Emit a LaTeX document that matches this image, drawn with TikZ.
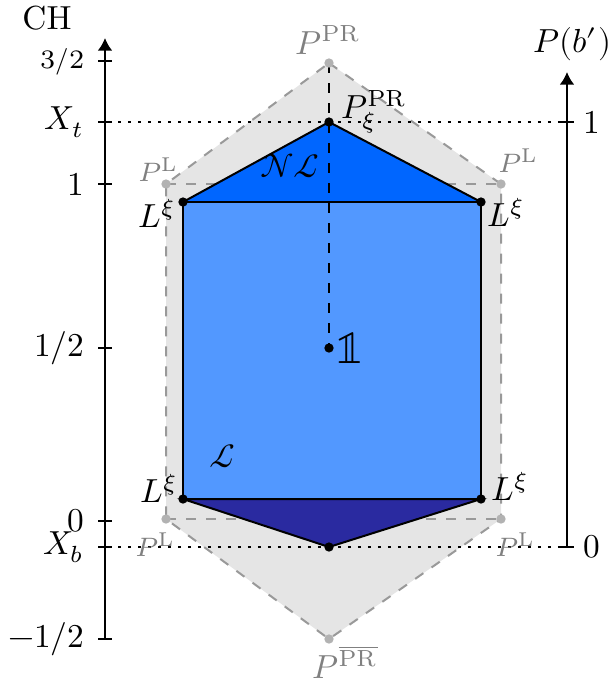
\documentclass[tikz,border=0pt]{standalone}
\usepackage{amsmath}
\usepackage{unicode-math}
\usepackage{tikz}
\usetikzlibrary{
  arrows.meta,
  positioning,
  calc,
}
\definecolor{nlBlue}{HTML}{0066FF}
\definecolor{locBlue}{HTML}{5298FF}
\definecolor{bndBlue}{HTML}{2A2AA0}
\definecolor{hullGray}{HTML}{E5E5E5}
\tikzset{
  axisLine/.style={
    -{Latex[length=3.8pt,width=4.5pt]}, line width=0.7pt,
  },
  tickMark/.style={line width=0.7pt},
  hullLine/.style={draw=black!40, dashed, line width=0.6pt},
  guideLine/.style={line width=0.8pt, dash pattern=on 0.8pt off 2.2pt},
  polyEdge/.style={draw=black, line width=0.6pt},
  vertexDot/.style={
    circle, fill=#1, inner sep=0pt, minimum size=2.8pt,
  },
  grayLabel/.style={text=black!50},
}

\begin{document}
\begin{tikzpicture}[x=0.3pt, y=-0.3pt]
\useasboundingbox (0,0) rectangle (612,681);

% corners of the outer hull
\coordinate (pr)    at (329,63);
\coordinate (prbar) at (329,639);
\coordinate (lTL)   at (166,184);
\coordinate (lTR)   at (501,184);
\coordinate (lBR)   at (501,519);
\coordinate (lBL)   at (166,519);
% corners of the inner region
\coordinate (xiTL)  at (183,202);
\coordinate (xiTR)  at (481,202);
\coordinate (xiBR)  at (481,499);
\coordinate (xiBL)  at (183,499);
\coordinate (xiPR)  at (329,122);
\coordinate (xiBot) at (329,547);
\coordinate (one)   at (329,348);

\fill[hullGray] (pr) -- (lTR) -- (lBR) -- (prbar) -- (lBL) -- (lTL) -- cycle;
\draw[hullLine] (pr) -- (lTR) -- (lBR) -- (prbar) -- (lBL) -- (lTL) -- cycle;
\draw[hullLine] (lTL) -- (lTR) (lBL) -- (lBR);

% left axis
\coordinate (chBot) at (105,639);
\coordinate (chTop) at (105,38);
\draw[axisLine] (chBot) -- (chTop);
\node (chName) at (47,18) {CH};
\draw[tickMark] (98,61) -- (112,61);
\node[anchor=east, font=\footnotesize] (chHalfUp) at (96,62) {$3/2$};
\foreach \y/\lab [count=\i] in {122/{$X_t$}, 184/{$1$}, 348/{$1/2$},
                                521/{$0$}, 547/{$X_b$}, 639/{$-1/2$}} {
  \draw[tickMark] (98,\y) -- (112,\y);
  \node[anchor=east] (chLab\i) at (96,\y) {\lab};
}

% right axis
\coordinate (pbBot) at (567,547);
\coordinate (pbTop) at (567,72);
\draw[axisLine] (pbBot) -- (pbTop);
\node (pbName) at (572,44) {$P(b')$};
\foreach \y/\lab [count=\i] in {122/{$1$}, 547/{$0$}} {
  \draw[tickMark] (560,\y) -- (574,\y);
  \node[anchor=west] (pbLab\i) at (572,\y) {\lab};
}

% guides
\draw[guideLine] (118,122) -- (560,122);
\draw[guideLine] (118,547) -- (560,547);

% inner region
\filldraw[fill=nlBlue, polyEdge] (xiTL) -- (xiPR) -- (xiTR) -- cycle;
\filldraw[fill=locBlue, polyEdge] (xiTL) rectangle (xiBR);
\filldraw[fill=bndBlue, polyEdge] (xiBL) -- (xiBR) -- (xiBot) -- cycle;
\draw[dashed, line width=0.7pt] (pr) -- (one);

% dots
\foreach \p in {pr, prbar, lTL, lTR, lBR, lBL}
  \node[vertexDot=black!30] (dot-\p) at (\p) {};
\foreach \p in {xiTL, xiTR, xiBR, xiBL, xiPR, xiBot, one}
  \node[vertexDot=black] (dot-\p) at (\p) {};

% labels
\node[grayLabel] (labPR) at (328,40) {$P^{\mathrm{PR}}$};
\node[grayLabel] (labPRbar) at (345,662) {$P^{\overline{\mathrm{PR}}}$};
\node[grayLabel, font=\footnotesize] (labLTL) at (158,170) {$P^{\mathrm{L}}$};
\node[grayLabel, font=\footnotesize] (labLTR) at (518,161) {$P^{\mathrm{L}}$};
\node[grayLabel, font=\footnotesize] (labLBL) at (155,545) {$P^{\mathrm{L}}$};
\node[grayLabel, font=\footnotesize] (labLBR) at (515,545) {$P^{\mathrm{L}}$};
\node (labXiPR) at (374,112) {$P_{\xi}^{\mathrm{PR}}$};
\node (labXiTL) at (157,213) {$L^{\xi}$};
\node (labXiTR) at (506,212) {$L^{\xi}$};
\node (labXiBL) at (159,488) {$L^{\xi}$};
\node (labXiBR) at (510,486) {$L^{\xi}$};
\node (labNL) at (290,166) {$\mathcal{NL}$};
\node (labL) at (222,456) {$\mathcal{L}$};
\node[font=\Large] (labOne) at (350,348) {$\mathbb{1}$};
\end{tikzpicture}
\end{document}
